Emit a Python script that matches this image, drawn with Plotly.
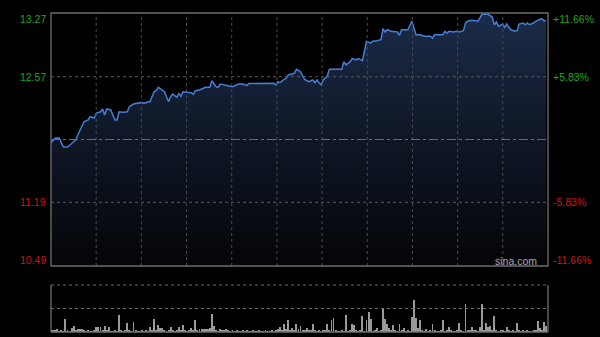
import plotly.graph_objects as go

# ---- data ----
prev_close = 11.88
price_min, price_max = 10.49, 13.27
left_ticks = [13.27, 12.57, 11.19, 10.49]
right_ticks = ["+11.66%", "+5.83%", "-5.83%", "-11.66%"]
tick_colors = ["#1ea51e", "#1ea51e", "#d01414", "#d01414"]

minutes = [0, 2, 4, 6, 8, 10, 12, 13, 15, 16, 18, 19, 21, 22, 24, 25, 26, 27, 29, 31,
           32, 33, 35, 37, 38, 40, 43, 46, 47, 48, 50, 51, 52, 54, 55, 57, 58, 59, 61, 62,
           63, 64, 66, 68, 69, 70, 72, 75, 77, 78, 80, 81, 82, 84, 87, 88, 91, 93, 95, 96,
           108, 109, 110, 111, 113, 114, 115, 117, 118, 119, 121, 122, 123, 125, 127, 128, 129, 130, 131, 132,
           134, 135, 137, 138, 141, 142, 143, 145, 146, 148, 149, 151, 152, 153, 155, 156, 158, 160, 161, 162,
           163, 165, 168, 169, 170, 173, 175, 176, 177, 179, 181, 184, 185, 186, 190, 191, 192, 193, 195, 197,
           198, 200, 201, 202, 204, 207, 208, 209, 212, 214, 215, 216, 217, 219, 220, 221, 222, 223, 225, 226,
           227, 229, 230, 231, 232, 234, 235, 237, 238, 239, 240]
prices = [11.845, 11.893, 11.896, 11.797, 11.797, 11.841, 11.874, 11.929, 12.039, 12.075,
          12.094, 12.130, 12.116, 12.171, 12.185, 12.215, 12.149, 12.215, 12.204, 12.094,
          12.094, 12.185, 12.180, 12.185, 12.240, 12.270, 12.284, 12.281, 12.295, 12.295,
          12.405, 12.416, 12.453, 12.416, 12.405, 12.295, 12.350, 12.380, 12.344, 12.388,
          12.350, 12.405, 12.399, 12.394, 12.377, 12.416, 12.424, 12.453, 12.453, 12.526,
          12.460, 12.453, 12.490, 12.479, 12.460, 12.460, 12.490, 12.490, 12.475, 12.495,
          12.497, 12.479, 12.515, 12.504, 12.541, 12.552, 12.589, 12.600, 12.607, 12.651,
          12.625, 12.578, 12.541, 12.515, 12.534, 12.504, 12.534, 12.504, 12.479, 12.534,
          12.578, 12.651, 12.651, 12.644, 12.651, 12.735, 12.699, 12.732, 12.768, 12.757,
          12.768, 12.746, 12.867, 12.959, 12.940, 12.959, 12.966, 12.977, 13.097, 13.061,
          13.086, 13.069, 13.061, 13.025, 13.086, 13.086, 13.179, 13.105, 13.031, 13.031,
          13.014, 13.014, 12.995, 13.031, 13.031, 13.069, 13.050, 13.069, 13.061, 13.069,
          13.061, 13.076, 13.160, 13.179, 13.190, 13.179, 13.215, 13.255, 13.255, 13.223,
          13.141, 13.171, 13.124, 13.149, 13.113, 13.149, 13.113, 13.086, 13.069, 13.076,
          13.149, 13.160, 13.141, 13.160, 13.141, 13.160, 13.179, 13.196, 13.207, 13.185,
          13.185]

volume = [2, 2, 2, 3, 1, 2, 1, 13, 2, 1,
          4, 6, 2, 3, 3, 3, 2, 1, 2, 1,
          1, 2, 5, 5, 5, 2, 6, 2, 5, 1,
          1, 2, 1, 17, 2, 1, 2, 9, 2, 1,
          10, 2, 1, 1, 2, 1, 2, 1, 5, 2,
          13, 2, 7, 4, 4, 2, 1, 2, 5, 2,
          1, 2, 5, 2, 7, 2, 1, 2, 4, 2,
          12, 2, 3, 3, 3, 3, 3, 4, 18, 6,
          2, 1, 3, 2, 2, 3, 2, 1, 2, 1,
          2, 1, 1, 2, 1, 2, 1, 1, 2, 1,
          1, 2, 1, 1, 2, 1, 1, 2, 1, 2,
          3, 5, 2, 8, 3, 12, 2, 4, 2, 8,
          3, 6, 2, 2, 4, 2, 2, 8, 2, 1,
          2, 1, 2, 2, 8, 2, 12, 14, 2, 1,
          1, 2, 1, 17, 1, 2, 8, 7, 2, 1,
          2, 16, 1, 12, 20, 13, 1, 2, 4, 1,
          2, 23, 13, 8, 4, 2, 7, 2, 1, 8,
          2, 4, 1, 2, 1, 15, 32, 14, 4, 12,
          2, 1, 3, 1, 2, 8, 2, 1, 1, 2,
          12, 1, 2, 5, 2, 1, 1, 2, 9, 2,
          1, 28, 2, 2, 5, 2, 2, 1, 5, 28,
          2, 9, 5, 6, 2, 16, 2, 1, 2, 2,
          1, 5, 2, 1, 2, 1, 9, 2, 1, 2,
          1, 2, 1, 1, 2, 2, 11, 4, 2, 10,
          6]
vol_minutes = list(range(len(volume)))
vol_max = 47
n_minutes = 241
n_vgrid = 11

# ---- figure ----
fig = go.Figure()

fig.add_trace(go.Scatter(x=[minutes[0], minutes[-1]], y=[price_min, price_min],
                         mode="lines", line=dict(width=0), hoverinfo="skip",
                         showlegend=False, xaxis="x", yaxis="y"))
fig.add_trace(go.Scatter(x=minutes, y=prices, mode="lines",
                         line=dict(color="#477ed6", width=1.5),
                         fill="tonexty",
                         fillgradient=dict(type="vertical", start=price_min, stop=price_max,
                                           colorscale=[[0, "#040507"], [0.5, "#0f1726"], [1, "#1b2b48"]]),
                         showlegend=False, xaxis="x", yaxis="y"))

fig.add_trace(go.Bar(x=vol_minutes, y=volume, marker=dict(color="#9a9a9a", line=dict(width=0)),
                     width=0.45, showlegend=False, xaxis="x2", yaxis="y2"))

xdom = [51 / 600, 548 / 600]
fig.update_layout(
    width=600, height=337,
    margin=dict(l=0, r=0, t=0, b=0),
    paper_bgcolor="#000000", plot_bgcolor="#000000",
    font=dict(family="Liberation Sans, Arial, sans-serif", size=10),
    xaxis=dict(domain=xdom, range=[0, n_minutes], showgrid=False, zeroline=False,
               showticklabels=False, ticks=""),
    yaxis=dict(domain=[1 - 266 / 337, 1 - 13 / 337], range=[price_min, price_max],
               showgrid=False, zeroline=False, showticklabels=False, ticks=""),
    xaxis2=dict(domain=xdom, range=[0, n_minutes], anchor="y2", showgrid=False,
                zeroline=False, showticklabels=False, ticks=""),
    yaxis2=dict(domain=[1 - 332 / 337, 1 - 285 / 337], range=[0, vol_max], anchor="x2",
                showgrid=False, zeroline=False, showticklabels=False, ticks=""),
    bargap=0,
)

shapes = []
grid_col = "#4a4a4a"
# vertical grid lines in price panel
for k in range(1, n_vgrid):
    xv = k * n_minutes / n_vgrid
    shapes.append(dict(type="line", xref="x", yref="y domain", x0=xv, x1=xv, y0=0, y1=1,
                       line=dict(color=grid_col, width=1, dash="dot")))
# horizontal grid lines
for v in [left_ticks[1], left_ticks[2]]:
    shapes.append(dict(type="line", xref="x domain", yref="y", x0=0, x1=1, y0=v, y1=v,
                       line=dict(color="#5a5a5a", width=1, dash="dot")))
shapes.append(dict(type="line", xref="x domain", yref="y", x0=0, x1=1, y0=prev_close, y1=prev_close,
                   line=dict(color="#6a6a6a", width=1.2, dash="dashdot")))
# price panel border
shapes.append(dict(type="rect", xref="x domain", yref="y domain", x0=0, x1=1, y0=0, y1=1,
                   line=dict(color="#6e6e6e", width=1.3)))
# volume panel
shapes.append(dict(type="line", xref="x2 domain", yref="y2 domain", x0=0, x1=1, y0=1, y1=1,
                   line=dict(color="#6a6a6a", width=1, dash="dot")))
shapes.append(dict(type="line", xref="x2 domain", yref="y2", x0=0, x1=1, y0=vol_max / 2, y1=vol_max / 2,
                   line=dict(color="#6a6a6a", width=1, dash="dot")))
for x0, x1, y0, y1 in [(0, 1, 0, 0), (0, 0, 0, 1), (1, 1, 0, 1)]:
    shapes.append(dict(type="line", xref="x2 domain", yref="y2 domain", x0=x0, x1=x1, y0=y0, y1=y1,
                       line=dict(color="#6e6e6e", width=1.3)))
fig.update_layout(shapes=shapes)

annotations = []
yshifts = [-6, 0, 0, 6]
for val, rt, col, ys in zip(left_ticks, right_ticks, tick_colors, yshifts):
    annotations.append(dict(xref="paper", yref="y", x=48 / 600, y=val, text=f"{val:.2f}",
                            xanchor="right", yanchor="middle", showarrow=False, yshift=ys,
                            font=dict(color=col, size=10.5)))
    annotations.append(dict(xref="paper", yref="y", x=551 / 600, y=val, text=rt,
                            xanchor="left", yanchor="middle", showarrow=False, yshift=ys,
                            font=dict(color=col, size=10.5)))
annotations.append(dict(xref="paper", yref="y", x=539 / 600, y=price_min, text="sina.com",
                        xanchor="right", yanchor="middle", showarrow=False, yshift=5,
                        font=dict(color="#a8a8a8", size=10.5)))
fig.update_layout(annotations=annotations)

fig.write_html("out.html")
